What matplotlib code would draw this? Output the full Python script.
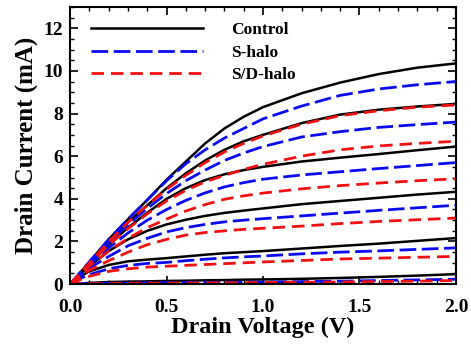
import numpy as np
import matplotlib
matplotlib.use("Agg")
import matplotlib.pyplot as plt
from matplotlib.ticker import MultipleLocator

plt.rcParams['font.family'] = ['Liberation Serif', 'DejaVu Serif']
plt.rcParams['font.weight'] = 'bold'
plt.rcParams['axes.labelweight'] = 'bold'

# drain voltage grid (V)
vd = [0, 0.05, 0.1, 0.2, 0.3, 0.4, 0.5, 0.6, 0.7, 0.8, 0.9, 1.0, 1.2, 1.4, 1.6, 1.8, 2.0]

# drain current (mA), one list per gate bias, highest first
control = [
    [0, 0.52, 1.05, 2.1, 3.05, 3.95, 4.9, 5.75, 6.6, 7.3, 7.85, 8.3, 8.95, 9.45, 9.85, 10.15, 10.35],
    [0, 0.5, 1.0, 2.0, 2.9, 3.7, 4.5, 5.2, 5.8, 6.3, 6.7, 7.0, 7.55, 7.95, 8.18, 8.33, 8.45],
    [0, 0.48, 0.95, 1.85, 2.65, 3.35, 4.0, 4.5, 4.88, 5.15, 5.35, 5.5, 5.75, 5.93, 6.1, 6.28, 6.45],
    [0, 0.45, 0.85, 1.55, 2.1, 2.5, 2.8, 3.02, 3.2, 3.34, 3.45, 3.55, 3.75, 3.9, 4.05, 4.2, 4.33],
    [0, 0.35, 0.6, 0.9, 1.07, 1.15, 1.22, 1.3, 1.38, 1.45, 1.5, 1.55, 1.67, 1.79, 1.9, 2.03, 2.16],
    [0, 0.03, 0.06, 0.1, 0.12, 0.13, 0.15, 0.16, 0.18, 0.19, 0.21, 0.22, 0.25, 0.29, 0.34, 0.4, 0.47],
]
s_halo = [
    [0, 0.52, 1.05, 2.1, 3.05, 3.95, 4.85, 5.65, 6.3, 6.85, 7.3, 7.75, 8.35, 8.85, 9.15, 9.35, 9.5],
    [0, 0.5, 1.0, 1.95, 2.8, 3.55, 4.25, 4.85, 5.35, 5.8, 6.15, 6.45, 6.9, 7.15, 7.35, 7.48, 7.6],
    [0, 0.45, 0.9, 1.7, 2.4, 3.0, 3.5, 3.93, 4.28, 4.56, 4.76, 4.92, 5.12, 5.27, 5.42, 5.56, 5.7],
    [0, 0.4, 0.75, 1.3, 1.8, 2.15, 2.45, 2.65, 2.8, 2.92, 3.0, 3.07, 3.2, 3.33, 3.46, 3.58, 3.7],
    [0, 0.25, 0.45, 0.72, 0.88, 0.97, 1.02, 1.1, 1.17, 1.23, 1.28, 1.32, 1.42, 1.5, 1.56, 1.63, 1.7],
    [0, 0.02, 0.03, 0.04, 0.05, 0.06, 0.07, 0.075, 0.08, 0.09, 0.095, 0.1, 0.12, 0.14, 0.17, 0.2, 0.23],
]
sd_halo = [
    [0, 0.5, 1.0, 2.0, 2.9, 3.7, 4.45, 5.1, 5.7, 6.2, 6.6, 6.95, 7.5, 7.9, 8.13, 8.3, 8.4],
    [0, 0.48, 0.95, 1.85, 2.6, 3.3, 3.9, 4.4, 4.8, 5.1, 5.38, 5.62, 6.0, 6.3, 6.48, 6.6, 6.7],
    [0, 0.43, 0.85, 1.55, 2.15, 2.65, 3.05, 3.43, 3.73, 3.98, 4.14, 4.27, 4.47, 4.62, 4.74, 4.85, 4.94],
    [0, 0.35, 0.65, 1.1, 1.5, 1.85, 2.1, 2.3, 2.42, 2.5, 2.57, 2.62, 2.72, 2.84, 2.94, 3.02, 3.1],
    [0, 0.2, 0.37, 0.6, 0.72, 0.8, 0.84, 0.88, 0.92, 0.96, 1.0, 1.04, 1.11, 1.18, 1.22, 1.26, 1.3],
    [0, 0.01, 0.02, 0.03, 0.04, 0.045, 0.05, 0.055, 0.06, 0.065, 0.07, 0.08, 0.09, 0.1, 0.12, 0.14, 0.17],
]

fig = plt.figure(figsize=(4.71, 3.44), dpi=100)
ax = fig.add_axes([0.149, 0.174, 0.819, 0.806])

for i in range(len(control)):
    ax.plot(vd, control[i], color='black', lw=1.8, ls='-',
            label='Control' if i == 0 else None)
for i in range(len(s_halo)):
    ax.plot(vd, s_halo[i], color='#0a0af0', lw=2.0, ls=(0, (6, 2)),
            label='S-halo' if i == 0 else None)
for i in range(len(sd_halo)):
    ax.plot(vd, sd_halo[i], color='#f01010', lw=2.0, ls=(0, (4.5, 2.5)),
            label='S/D-halo' if i == 0 else None)

ax.set_xlim(0, 2.0)
ax.set_ylim(0, 13)
ax.xaxis.set_major_locator(MultipleLocator(0.5))
ax.xaxis.set_minor_locator(MultipleLocator(0.1))
ax.yaxis.set_major_locator(MultipleLocator(2))
ax.yaxis.set_minor_locator(MultipleLocator(0.5))
ax.set_xticks([0, 0.5, 1.0, 1.5, 2.0])
ax.set_xticklabels(['0.0', '0.5', '1.0', '1.5', '2.0'])
ax.tick_params(which='both', direction='in', top=True, right=True, labelsize=14)
ax.tick_params(which='major', length=6, width=1.2)
ax.tick_params(which='minor', length=3, width=1.0)
ax.tick_params(axis='x', which='major', pad=11)
ax.tick_params(axis='y', which='major', pad=5)
for s in ax.spines.values():
    s.set_linewidth(1.5)

ax.set_xlabel('Drain Voltage (V)', fontsize=17.5, labelpad=0)
ax.set_ylabel('Drain Current (mA)', fontsize=18, labelpad=4)

ax.legend(loc='upper left', bbox_to_anchor=(0.055, 0.945), frameon=False,
          borderaxespad=0, borderpad=0,
          fontsize=12.5, handlelength=6.45, handletextpad=1.6, labelspacing=0.36)

fig.savefig('out.png', dpi=100)
